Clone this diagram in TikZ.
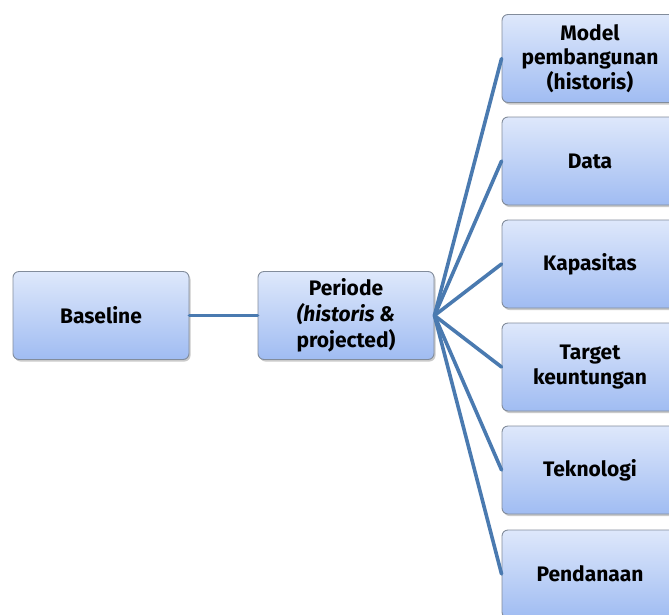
\documentclass[tikz,border=0pt]{standalone}
\usepackage{fontspec}
\setmainfont{Fira Sans}
\usetikzlibrary{shadows}

\definecolor{kotakatas}{RGB}{222,232,251}
\definecolor{kotakbawah}{RGB}{160,188,242}
\definecolor{kotaktepi}{RGB}{130,140,155}
\definecolor{garisbiru}{RGB}{74,122,176}

\begin{document}
\begin{tikzpicture}[x=1pt,y=-1pt,line cap=round,line join=round,
  kotak/.style={draw=kotaktepi,line width=0.9pt,rounded corners=6pt,
    top color=kotakatas,bottom color=kotakbawah,
    minimum width=176pt,minimum height=88pt,align=center,inner sep=1pt,
    font=\fontsize{21}{24.5}\selectfont\bfseries,
    drop shadow={shadow xshift=1.5pt,shadow yshift=-2pt,opacity=0.35,fill=black!60}},
  sambung/.style={draw=garisbiru,line width=3.6pt}]
\useasboundingbox (0,0) rectangle (669,614);
% kotak kiri
\node[kotak] (baseline) at (101,315.5) {Baseline};
\node[kotak,font=\fontsize{21}{26}\selectfont\bfseries] (periode) at (346,315.5) {Periode\\\textit{(historis \&}\\projected)};
% kotak kanan
\node[kotak] (model) at (590,58.5) {Model\\pembangunan\\(historis)};
\node[kotak] (data) at (590,161) {Data};
\node[kotak] (kapasitas) at (590,264) {Kapasitas};
\node[kotak] (target) at (590,367) {Target\\keuntungan};
\node[kotak] (teknologi) at (590,470) {Teknologi};
\node[kotak] (pendanaan) at (590,574) {Pendanaan};
% garis
\draw[sambung] (baseline.east) -- (periode.west);
\draw[sambung] (periode.east) -- (model.west);
\draw[sambung] (periode.east) -- (data.west);
\draw[sambung] (periode.east) -- (kapasitas.west);
\draw[sambung] (periode.east) -- (target.west);
\draw[sambung] (periode.east) -- (teknologi.west);
\draw[sambung] (periode.east) -- (pendanaan.west);
\end{tikzpicture}
\end{document}
